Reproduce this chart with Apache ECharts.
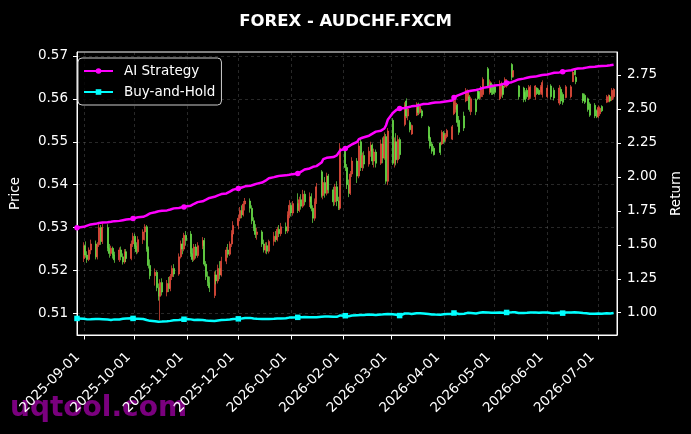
<!DOCTYPE html>
<html>
<head>
<meta charset="utf-8">
<script src="https://cdn.jsdelivr.net/npm/echarts@6/dist/echarts.min.js"></script>
<style>
  html, body { margin: 0; padding: 0; background: #000; }
  #chart { width: 691px; height: 434px; }
</style>
</head>
<body>
<div id="chart"></div>
<script>
// 交易日范围（周一至周五）
var firstDay = '2025-08-28';
var lastDay = '2026-07-10';

// 月度刻度
var monthTicks = ['2025-09-01', '2025-10-01', '2025-11-01', '2025-12-01', '2026-01-01', '2026-02-01',
    '2026-03-01', '2026-04-01', '2026-05-01', '2026-06-01', '2026-07-01'];
var priceTicks = [0.51, 0.52, 0.53, 0.54, 0.55, 0.56, 0.57];
var returnTicks = [1.00, 1.25, 1.50, 1.75, 2.00, 2.25, 2.50, 2.75];

// K线 [open, close, low, high]，null = 无数据
var ohlc = [
    null, null,
    [.5228, .5258, .5220, .5266], [.5258, .5236, .5230, .5268], [.5236, .5226, .5218, .5245], [.5226, .5248, .5222, .5254], [.5248, .5262, .5238, .5272],
    [.5262, .5232, .5226, .5270], [.5232, .5260, .5226, .5266], [.5260, .5300, .5255, .5311], [.5300, .5268, .5260, .5306], [.5268, .5300, .5262, .5310],
    [.5300, .5252, .5245, .5308], [.5252, .5240, .5230, .5262], [.5240, .5252, .5234, .5258], [.5252, .5236, .5228, .5256], [.5236, .5225, .5218, .5244],
    [.5225, .5248, .5220, .5254], [.5248, .5232, .5224, .5256], [.5232, .5220, .5214, .5240], [.5220, .5244, .5216, .5250], [.5244, .5228, .5220, .5250],
    [.5228, .5262, .5224, .5270], [.5262, .5280, .5255, .5288], [.5280, .5258, .5250, .5286], [.5258, .5244, .5238, .5266], [.5244, .5272, .5240, .5280],
    [.5272, .5290, .5262, .5296], [.5290, .5302, .5270, .5308], [.5302, .5250, .5244, .5306], [.5250, .5212, .5205, .5256], [.5212, .5188, .5180, .5226],
    [.5188, .5196, .5165, .5205], [.5196, .5160, .5152, .5200], [.5160, .5140, .5130, .5170], [.5140, .5172, .5085, .5180], [.5172, .5150, .5142, .5182],
    [.5150, .5170, .5140, .5178], [.5170, .5158, .5150, .5185], [.5158, .5186, .5152, .5192], [.5186, .5205, .5178, .5212], [.5205, .5192, .5185, .5215],
    [.5192, .5232, .5188, .5240], [.5232, .5262, .5228, .5270], [.5262, .5250, .5238, .5276], [.5250, .5282, .5245, .5288], [.5282, .5270, .5258, .5292],
    [.5285, .5240, .5232, .5292], [.5240, .5226, .5220, .5252], [.5226, .5255, .5222, .5262], [.5255, .5235, .5228, .5262], [.5235, .5258, .5230, .5266],
    [.5258, .5270, .5250, .5278], [.5270, .5215, .5210, .5276], [.5215, .5186, .5178, .5222], [.5186, .5172, .5164, .5198], [.5172, .5160, .5150, .5186],
    [.5142, .5190, .5136, .5198], [.5190, .5176, .5168, .5200], [.5176, .5205, .5170, .5214], [.5205, .5190, .5180, .5222], [.5190, .5222, .5186, .5232],
    [.5222, .5248, .5215, .5255], [.5248, .5238, .5230, .5262], [.5238, .5262, .5234, .5268], [.5262, .5285, .5255, .5294], [.5285, .5305, .5278, .5315],
    [.5305, .5322, .5296, .5330], [.5322, .5340, .5315, .5348], [.5340, .5330, .5322, .5352], [.5330, .5355, .5326, .5362], [.5355, .5362, .5340, .5369],
    [.5362, .5345, .5335, .5368], [.5345, .5316, .5308, .5352], [.5316, .5300, .5292, .5324], [.5300, .5284, .5276, .5308], [.5284, .5290, .5272, .5300],
    [.5290, .5262, .5255, .5294], [.5262, .5248, .5242, .5272], [.5248, .5258, .5240, .5266], [.5258, .5245, .5238, .5266], [.5245, .5268, .5240, .5272],
    [.5268, .5280, .5258, .5290], [.5280, .5272, .5266, .5292], [.5272, .5296, .5268, .5302], [.5296, .5286, .5278, .5306], [.5286, .5302, .5280, .5311],
    [.5302, .5292, .5285, .5312], [.5292, .5330, .5287, .5338], [.5330, .5352, .5322, .5364], [.5352, .5334, .5326, .5358], [.5334, .5356, .5328, .5362],
    [.5356, .5340, .5334, .5380], [.5340, .5365, .5336, .5372], [.5365, .5350, .5342, .5378], [.5350, .5378, .5346, .5388], [.5378, .5360, .5352, .5386],
    [.5360, .5372, .5348, .5382], [.5372, .5345, .5338, .5380], [.5345, .5322, .5311, .5352], [.5322, .5360, .5316, .5368], [.5360, .5395, .5355, .5404],
    [.5430, .5375, .5370, .5434], [.5375, .5405, .5366, .5412], [.5405, .5380, .5370, .5418], [.5380, .5420, .5375, .5428], [.5420, .5388, .5380, .5425],
    [.5388, .5360, .5350, .5395], [.5360, .5395, .5352, .5402], [.5395, .5362, .5350, .5408], [.5362, .5345, .5341, .5372], [.5345, .5485, .5341, .5497],
    [.5485, .5440, .5432, .5490], [.5440, .5400, .5390, .5448], [.5400, .5380, .5371, .5412], [.5380, .5425, .5376, .5432], [.5425, .5455, .5418, .5464],
    [.5455, .5420, .5404, .5462], [.5420, .5490, .5415, .5500], [.5500, .5440, .5432, .5509], [.5440, .5468, .5432, .5475], [.5468, .5448, .5438, .5478],
    [.5448, .5478, .5442, .5488], [.5478, .5492, .5465, .5500], [.5492, .5455, .5446, .5496], [.5455, .5476, .5440, .5484], [.5476, .5450, .5440, .5482],
    [.5450, .5495, .5446, .5505], [.5495, .5462, .5450, .5510], [.5462, .5512, .5458, .5522], [.5512, .5408, .5402, .5518], [.5408, .5525, .5399, .5532],
    [.5550, .5450, .5446, .5555], [.5450, .5500, .5440, .5510], [.5500, .5458, .5445, .5520], [.5458, .5505, .5450, .5515], [.5505, .5470, .5460, .5510],
    [.5540, .5585, .5536, .5592], [.5595, .5560, .5555, .5601], [.5560, .5576, .5550, .5582], [.5545, .5528, .5522, .5550], [.5518, .5538, .5516, .5540],
    [.5562, .5588, .5560, .5592], [.5588, .5568, .5562, .5591], [.5568, .5582, .5565, .5588], [.5572, .5560, .5555, .5576], null,
    [.5534, .5508, .5502, .5537], [.5510, .5490, .5484, .5515], [.5495, .5478, .5472, .5500], [.5485, .5470, .5468, .5490], null,
    [.5497, .5475, .5469, .5500], [.5495, .5522, .5492, .5527], [.5520, .5500, .5495, .5525], [.5505, .5516, .5500, .5520], [.5512, .5526, .5508, .5530],
    [.5506, .5535, .5504, .5539], [.5565, .5596, .5562, .5601], [.5575, .5590, .5568, .5598], [.5585, .5545, .5535, .5588], [.5550, .5522, .5516, .5560],
    [.5560, .5532, .5525, .5570], [.5595, .5620, .5592, .5625], [.5600, .5615, .5595, .5622], [.5605, .5575, .5570, .5609], [.5570, .5600, .5562, .5605],
    [.5598, .5570, .5562, .5601], [.5618, .5600, .5597, .5620], [.5615, .5602, .5598, .5618], [.5605, .5625, .5600, .5630], [.5610, .5645, .5604, .5650],
    [.5670, .5630, .5625, .5674], [.5615, .5640, .5610, .5645], [.5636, .5615, .5609, .5638], [.5630, .5612, .5609, .5634], [.5628, .5615, .5610, .5632],
    [.5600, .5635, .5597, .5643], [.5610, .5632, .5605, .5640], [.5630, .5610, .5602, .5635], [.5628, .5645, .5625, .5650], [.5630, .5640, .5626, .5646],
    [.5680, .5650, .5643, .5683], [.5652, .5665, .5650, .5667], null, null, [.5630, .5605, .5598, .5632],
    [.5625, .5600, .5592, .5628], [.5615, .5598, .5593, .5620], [.5620, .5605, .5600, .5625], [.5600, .5625, .5597, .5632], [.5605, .5628, .5600, .5632],
    [.5605, .5630, .5598, .5632], [.5625, .5612, .5609, .5627], [.5620, .5610, .5609, .5624], [.5615, .5628, .5610, .5632], [.5610, .5638, .5603, .5643],
    [.5605, .5625, .5601, .5632], null, [.5630, .5605, .5598, .5634], null, [.5620, .5602, .5596, .5626],
    [.5590, .5625, .5585, .5632], [.5622, .5595, .5588, .5628], [.5610, .5592, .5586, .5615], null, [.5603, .5628, .5601, .5632],
    [.5605, .5628, .5601, .5632], [.5640, .5662, .5639, .5667], [.5668, .5656, .5655, .5671], [.5650, .5640, .5634, .5654], null,
    [.5612, .5595, .5590, .5613], [.5608, .5592, .5588, .5612], null, [.5600, .5575, .5570, .5603], [.5588, .5562, .5558, .5592],
    [.5585, .5560, .5555, .5590], [.5572, .5558, .5555, .5575], [.5558, .5580, .5555, .5585], [.5565, .5578, .5560, .5582], [.5582, .5572, .5569, .5585],
    [.5592, .5605, .5590, .5609], [.5595, .5608, .5592, .5610], [.5605, .5595, .5592, .5609], [.5598, .5620, .5595, .5625], [.5605, .5622, .5600, .5625]
];

// AI策略收益
var aiStrategy = [
    1.625, 1.628,
    1.632, 1.636, 1.641, 1.645, 1.650,
    1.654, 1.659, 1.661, 1.663, 1.664,
    1.666, 1.668, 1.669, 1.671, 1.674,
    1.676, 1.678, 1.681, 1.683, 1.686,
    1.690, 1.694, 1.697, 1.699, 1.702,
    1.706, 1.710, 1.716, 1.724, 1.731,
    1.740, 1.744, 1.747, 1.749, 1.750,
    1.753, 1.756, 1.760, 1.764, 1.768,
    1.771, 1.774, 1.777, 1.779, 1.782,
    1.788, 1.795, 1.802, 1.808, 1.814,
    1.820, 1.826, 1.832, 1.838, 1.845,
    1.853, 1.858, 1.864, 1.869, 1.873,
    1.878, 1.884, 1.891, 1.898, 1.906,
    1.914, 1.918, 1.922, 1.926, 1.930,
    1.934, 1.938, 1.942, 1.946, 1.950,
    1.958, 1.964, 1.972, 1.980, 1.990,
    1.998, 2.002, 2.005, 2.007, 2.009,
    2.011, 2.013, 2.015, 2.017, 2.020,
    2.024, 2.030, 2.038, 2.046, 2.054,
    2.062, 2.068, 2.074, 2.077, 2.079,
    2.105, 2.130, 2.136, 2.140, 2.143,
    2.146, 2.150, 2.158, 2.172, 2.195,
    2.209, 2.216, 2.224, 2.232, 2.240,
    2.258, 2.278, 2.284, 2.288, 2.292,
    2.303, 2.310, 2.318, 2.326, 2.333,
    2.340, 2.346, 2.356, 2.380, 2.420,
    2.470, 2.484, 2.492, 2.498, 2.503,
    2.507, 2.510, 2.513, 2.516, 2.519,
    2.523, 2.527, 2.530, 2.533, 2.536,
    2.538, 2.540, 2.543, 2.545, 2.547,
    2.549, 2.551, 2.553, 2.555, 2.557,
    2.562, 2.584, 2.592, 2.598, 2.604,
    2.618, 2.624, 2.628, 2.631, 2.634,
    2.639, 2.642, 2.646, 2.650, 2.655,
    2.661, 2.664, 2.667, 2.670, 2.673,
    2.677, 2.681, 2.684, 2.687, 2.690,
    2.697, 2.702, 2.707, 2.712, 2.717,
    2.723, 2.726, 2.729, 2.732, 2.735,
    2.738, 2.741, 2.744, 2.747, 2.750,
    2.754, 2.757, 2.760, 2.763, 2.766,
    2.769, 2.771, 2.773, 2.776, 2.780,
    2.785, 2.790, 2.793, 2.796, 2.798,
    2.800, 2.802, 2.804, 2.806, 2.808,
    2.810, 2.812, 2.814, 2.815, 2.816,
    2.818, 2.819, 2.821, 2.823, 2.825
];

// 买入持有收益
var buyHold = [
    0.958, 0.957,
    0.955, 0.953, 0.951, 0.950, 0.952,
    0.954, 0.956, 0.953, 0.950, 0.952,
    0.950, 0.948, 0.947, 0.949, 0.951,
    0.950, 0.952, 0.955, 0.957, 0.958,
    0.959, 0.958, 0.956, 0.955, 0.956,
    0.954, 0.950, 0.946, 0.942, 0.940,
    0.938, 0.936, 0.934, 0.933, 0.935,
    0.937, 0.938, 0.940, 0.942, 0.944,
    0.946, 0.948, 0.950, 0.952, 0.953,
    0.951, 0.948, 0.947, 0.946, 0.948,
    0.947, 0.945, 0.943, 0.941, 0.940,
    0.939, 0.941, 0.943, 0.944, 0.946,
    0.948, 0.949, 0.950, 0.951, 0.953,
    0.955, 0.954, 0.957, 0.960, 0.961,
    0.962, 0.960, 0.958, 0.956, 0.955,
    0.954, 0.952, 0.953, 0.951, 0.953,
    0.955, 0.957, 0.958, 0.959, 0.958,
    0.960, 0.962, 0.964, 0.963, 0.965,
    0.966, 0.965, 0.967, 0.966, 0.968,
    0.967, 0.969, 0.966, 0.964, 0.967,
    0.971, 0.968, 0.972, 0.975, 0.972,
    0.970, 0.972, 0.970, 0.968, 0.980,
    0.978, 0.976, 0.974, 0.977, 0.979,
    0.982, 0.988, 0.984, 0.985, 0.983,
    0.986, 0.988, 0.985, 0.984, 0.983,
    0.986, 0.984, 0.989, 0.980, 0.990,
    0.988, 0.983, 0.985, 0.982, 0.979,
    0.994, 0.996, 0.995, 0.992, 0.990,
    0.996, 0.995, 0.996, 0.995, 0.994,
    0.990, 0.988, 0.987, 0.986, 0.986,
    0.985, 0.990, 0.988, 0.989, 0.990,
    0.991, 0.998, 0.997, 0.993, 0.990,
    0.992, 0.999, 0.999, 0.995, 0.998,
    0.995, 0.999, 0.999, 1.001, 1.003,
    1.002, 1.002, 1.000, 1.000, 1.000,
    1.001, 1.001, 0.999, 1.002, 1.002,
    1.003, 1.004, 1.004, 1.003, 0.998,
    0.998, 0.998, 0.999, 1.001, 1.001,
    1.001, 0.999, 0.999, 1.000, 1.002,
    1.001, 0.999, 0.998, 0.998, 0.997,
    1.000, 0.997, 0.997, 0.998, 1.001,
    1.001, 1.004, 1.003, 1.003, 1.002,
    0.998, 0.997, 0.996, 0.994, 0.993,
    0.992, 0.992, 0.994, 0.994, 0.993,
    0.996, 0.996, 0.995, 0.997, 0.998
];

// 曲线标记点位置（第几个交易日）
var markerIndex = [0, 23, 45, 67, 92, 112, 136, 158, 181, 204];

/**
 * 生成交易日（跳过周末）
 */
function tradingDays(from, to) {
    let days = [];
    let d = new Date(from + 'T00:00:00Z');
    let end = new Date(to + 'T00:00:00Z');
    while (d <= end) {
        let wd = d.getUTCDay();
        if (wd !== 0 && wd !== 6) {
            days.push(d.toISOString().slice(0, 10));
        }
        d.setUTCDate(d.getUTCDate() + 1);
    }
    return days;
}

// 日期字符串 -> 时间戳
function ts(s) {
    return Date.parse(s + 'T00:00:00Z');
}

function pad(n) {
    return n < 10 ? '0' + n : '' + n;
}

init();

function init() {
    let dates = tradingDays(firstDay, lastDay);
    let markerSet = {};
    markerIndex.forEach(i => markerSet[i] = true);

    let candleData = [];
    let aiData = [];
    let bhData = [];
    dates.forEach((d, i) => {
        if (ohlc[i]) {
            candleData.push([ts(d)].concat(ohlc[i]));
        }
        aiData.push([ts(d), aiStrategy[i]]);
        bhData.push([ts(d), buyHold[i]]);
    });

    let tickTimes = monthTicks.map(ts);
    let font = 'DejaVu Sans';
    let gridLine = { color: 'rgba(150,150,150,0.45)', width: 0.6, type: [3, 3] };

    let option = {
        animation: false,
        backgroundColor: '#000',
        textStyle: {
            fontFamily: font,
            color: '#fff'
        },
        title: {
            text: 'FOREX - AUDCHF.FXCM',
            left: 'center',
            top: 8,
            textStyle: {
                color: '#fff',
                fontSize: 16.5,
                fontWeight: 'bold',
                fontFamily: font
            }
        },
        legend: {
            left: 78,
            top: 58,
            orient: 'vertical',
            padding: [5, 6, 5, 5],
            itemGap: 5,
            itemWidth: 29,
            itemHeight: 7,
            itemTextGap: 10,
            backgroundColor: 'rgba(0,0,0,0.8)',
            borderColor: '#ccc',
            borderWidth: 1,
            borderRadius: 4,
            textStyle: {
                color: '#fff',
                fontSize: 13.5,
                lineHeight: 16,
                padding: [0, 0, 0, 6],
                fontFamily: font
            },
            data: ['AI Strategy', 'Buy-and-Hold']
        },
        grid: {
            left: 71,
            right: 70,
            top: 52,
            bottom: 99,
            show: true,
            borderColor: '#fff',
            borderWidth: 1
        },
        xAxis: {
            type: 'value',
            min: ts('2025-08-28'),
            max: ts('2026-07-12'),
            axisLine: { show: true, onZero: false, lineStyle: { color: '#fff' } },
            axisTick: {
                show: true,
                length: 4.5,
                customValues: tickTimes,
                lineStyle: { color: '#fff' }
            },
            axisLabel: {
                customValues: tickTimes,
                rotate: 45,
                margin: 14,
                color: '#fff',
                fontSize: 13.5,
                fontFamily: font,
                formatter: function (value) {
                    let d = new Date(value);
                    // 末尾两个空格让文字整体左移，与原图对齐
                    return d.getUTCFullYear() + '-' + pad(d.getUTCMonth() + 1) + '-' + pad(d.getUTCDate()) + '  ';
                }
            },
            splitLine: { show: true, lineStyle: gridLine }
        },
        yAxis: [
            {
                type: 'value',
                position: 'left',
                min: 0.505,
                max: 0.5709,
                name: 'Price',
                nameLocation: 'middle',
                nameGap: 55,
                nameTextStyle: { color: '#fff', fontSize: 13.5, fontFamily: font },
                axisLine: { show: true, lineStyle: { color: '#fff' } },
                axisTick: {
                    show: true,
                    length: 4,
                    customValues: priceTicks,
                    lineStyle: { color: '#fff' }
                },
                axisLabel: {
                    customValues: priceTicks,
                    color: '#fff',
                    fontSize: 13.5,
                    margin: 9,
                    fontFamily: font,
                    formatter: function (v) { return v.toFixed(2); }
                },
                splitLine: { show: true, lineStyle: gridLine }
            },
            {
                type: 'value',
                position: 'right',
                min: 0.836,
                max: 2.919,
                name: 'Return',
                nameLocation: 'middle',
                nameGap: 52,
                nameTextStyle: { color: '#fff', fontSize: 13.5, fontFamily: font },
                axisLine: { show: true, lineStyle: { color: '#fff' } },
                axisTick: {
                    show: true,
                    length: 4,
                    customValues: returnTicks,
                    lineStyle: { color: '#fff' }
                },
                axisLabel: {
                    customValues: returnTicks,
                    color: '#fff',
                    fontSize: 13.5,
                    margin: 10,
                    fontFamily: font,
                    formatter: function (v) { return v.toFixed(2); }
                },
                splitLine: { show: false }
            }
        ],
        graphic: [
            {
                type: 'text',
                left: 10,
                top: 395,
                z: -1,
                style: {
                    text: 'uqtool.com',
                    fill: 'rgba(135,0,140,0.9)',
                    font: 'bold 28px "DejaVu Sans"'
                }
            }
        ],
        series: [
            {
                name: 'Price',
                type: 'candlestick',
                yAxisIndex: 0,
                barWidth: 1.5,
                itemStyle: {
                    color: '#f0503f',
                    color0: '#6ee84c',
                    borderColor: '#f0503f',
                    borderColor0: '#6ee84c',
                    borderWidth: 0.7
                },
                data: candleData,
                z: 2
            },
            {
                name: 'AI Strategy',
                type: 'line',
                yAxisIndex: 1,
                data: aiData,
                symbol: 'circle',
                showSymbol: true,
                showAllSymbol: true,
                symbolSize: function (v, p) { return markerSet[p.dataIndex] ? 5.5 : 0; },
                itemStyle: { color: '#ff00ff' },
                lineStyle: { color: '#ff00ff', width: 2.5 },
                z: 4
            },
            {
                name: 'Buy-and-Hold',
                type: 'line',
                yAxisIndex: 1,
                data: bhData,
                symbol: 'rect',
                showSymbol: true,
                showAllSymbol: true,
                symbolSize: function (v, p) { return markerSet[p.dataIndex] ? 5.5 : 0; },
                itemStyle: { color: '#00ffff' },
                lineStyle: { color: '#00ffff', width: 2.5 },
                z: 4
            }
        ]
    };

    let chart = echarts.init(document.getElementById('chart'));
    chart.setOption(option);
}
</script>
</body>
</html>
